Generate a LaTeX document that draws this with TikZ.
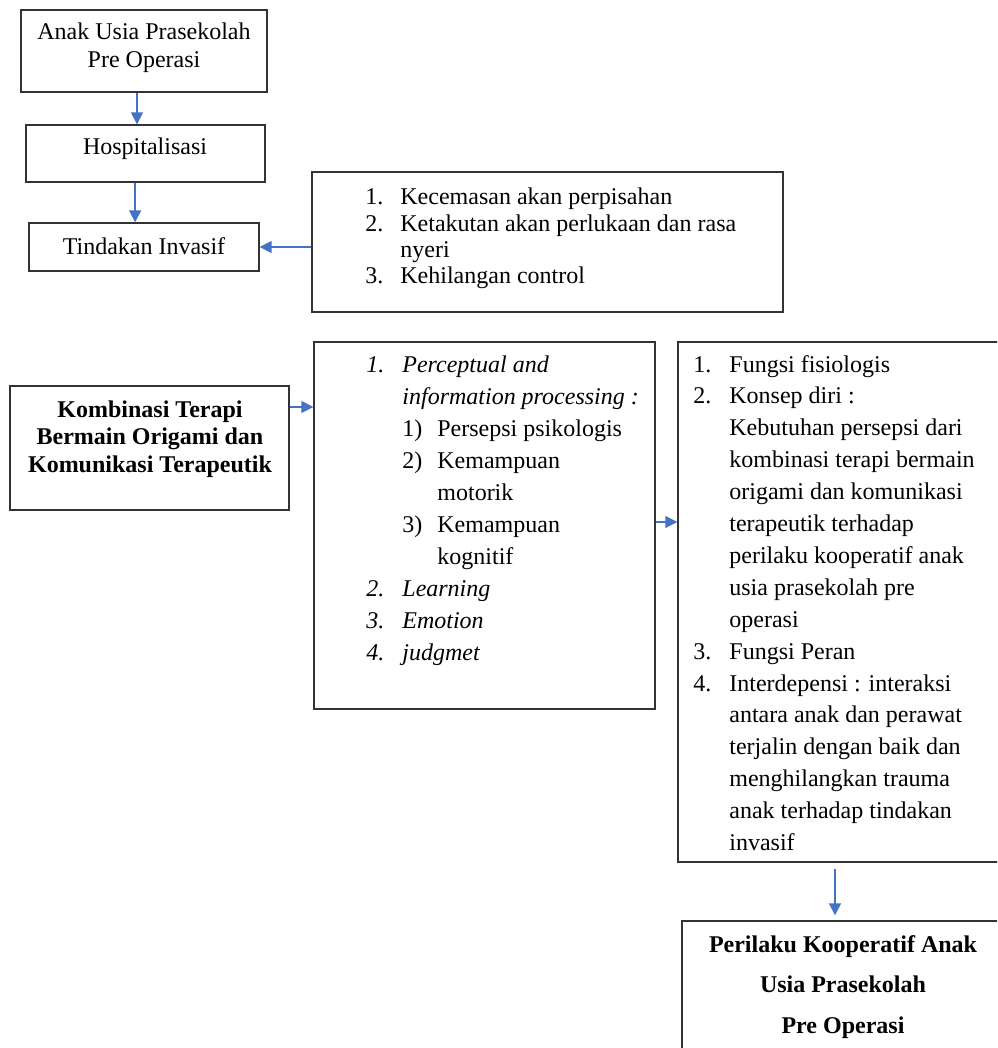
\documentclass[tikz,border=0pt]{standalone}
\usepackage{fontspec}
\setmainfont{Liberation Serif}
\usetikzlibrary{arrows.meta,fit,calc}
\definecolor{arrowblue}{RGB}{68,114,196}
\begin{document}
\begin{tikzpicture}[x=0.5pt,y=-0.5pt,
  box/.style={draw=black!80, line width=0.7pt, inner sep=0pt},
  ltxt/.style={inner sep=0pt, anchor=base west},
  ctxt/.style={inner sep=0pt, anchor=base},
  arr/.style={draw=arrowblue, line width=0.8pt, -{Triangle[length=6pt,width=6pt]}}]
\useasboundingbox (0,0) rectangle (997,1048);
\clip (0,0) rectangle (997,1048);
% boxes
\node[box, fit={(21,10) (267,92)}] (b1) {};
\node[box, fit={(26,125) (265,182)}] (b2) {};
\node[box, fit={(29,223) (259,271)}] (b3) {};
\node[box, fit={(312,172) (783,312)}] (b4) {};
\node[box, fit={(10,386) (289,510)}] (b5) {};
\node[box, fit={(314,342) (655,709)}] (b6) {};
\node[box, fit={(678,342) (1020,862)}] (b7) {};
\node[box, fit={(682,921) (1020,1070)}] (b8) {};
% texts
\node[ctxt, font=\fontsize{12}{14}\selectfont] (t1) at (144,40)
  {\begin{tabular}[t]{@{}c@{}}Anak Usia Prasekolah\\Pre Operasi\end{tabular}};
\node[ctxt, font=\fontsize{12}{14}\selectfont] (t2) at (145,155) {Hospitalisasi};
\node[ctxt, font=\fontsize{12}{14}\selectfont] (t3) at (144,254) {Tindakan Invasif};
\node[ltxt, font=\fontsize{12}{13.1}\selectfont] (t4) at (365,205)
  {\begin{tabular}[t]{@{}p{17.5pt}@{}l@{}}
  1. & Kecemasan akan perpisahan\\
  2. & Ketakutan akan perlukaan dan rasa\\
     & nyeri\\
  3. & Kehilangan control
  \end{tabular}};
\node[ctxt, font=\fontsize{12}{13.75}\selectfont\bfseries] (t5) at (150,417)
  {\begin{tabular}[t]{@{}c@{}}Kombinasi Terapi\\Bermain Origami dan\\Komunikasi Terapeutik\end{tabular}};
\node[ltxt, font=\fontsize{12}{16}\selectfont] (t6) at (366,372)
  {\begin{tabular}[t]{@{}p{18pt}@{}p{17.5pt}@{}l@{}}
  \textit{1.} & \multicolumn{2}{@{}l@{}}{\textit{Perceptual and}}\\
   & \multicolumn{2}{@{}l@{}}{\textit{information processing :}}\\
   & 1) & Persepsi psikologis\\
   & 2) & Kemampuan\\
   & & motorik\\
   & 3) & Kemampuan\\
   & & kognitif\\
  \textit{2.} & \multicolumn{2}{@{}l@{}}{\textit{Learning}}\\
  \textit{3.} & \multicolumn{2}{@{}l@{}}{\textit{Emotion}}\\
  \textit{4.} & \multicolumn{2}{@{}l@{}}{\textit{judgmet}}
  \end{tabular}};
\node[ltxt, font=\fontsize{12}{15.95}\selectfont] (t7) at (693,372)
  {\begin{tabular}[t]{@{}p{18pt}@{}l@{}}
  1. & Fungsi fisiologis\\
  2. & Konsep diri :\\
     & Kebutuhan persepsi dari\\
     & kombinasi terapi bermain\\
     & origami dan komunikasi\\
     & terapeutik terhadap\\
     & perilaku kooperatif anak\\
     & usia prasekolah pre\\
     & operasi\\
  3. & Fungsi Peran\\
  4. & Interdepensi : interaksi\\
     & antara anak dan perawat\\
     & terjalin dengan baik dan\\
     & menghilangkan trauma\\
     & anak terhadap tindakan\\
     & invasif
  \end{tabular}};
\node[ctxt, font=\fontsize{12}{20.25}\selectfont\bfseries] (t8) at (843,952)
  {\begin{tabular}[t]{@{}c@{}}Perilaku Kooperatif Anak\\Usia Prasekolah\\Pre Operasi\end{tabular}};
% connectors
\coordinate (ax) at (835,0);
\draw[arr] ([xshift=-3.5pt]b1.south) -- ([xshift=-3.5pt]b1.south |- b2.north);
\draw[arr] ([xshift=-5.2pt]b2.south) -- ([xshift=-5.2pt]b2.south |- b3.north);
\draw[arr] (b4.west |- b3.east) -- (b3.east);
\draw[arr] ($(b5.east)+(0,-41)$) -- ($(b6.west |- b5.east)+(0,-41)$);
\draw[arr] ($(b6.east)+(0,-3.5)$) -- ($(b7.west |- b6.east)+(0,-3.5)$);
\draw[arr] ([yshift=-3pt]b7.south -| ax) -- ([yshift=2.5pt]b8.north -| ax);
\end{tikzpicture}
\end{document}
